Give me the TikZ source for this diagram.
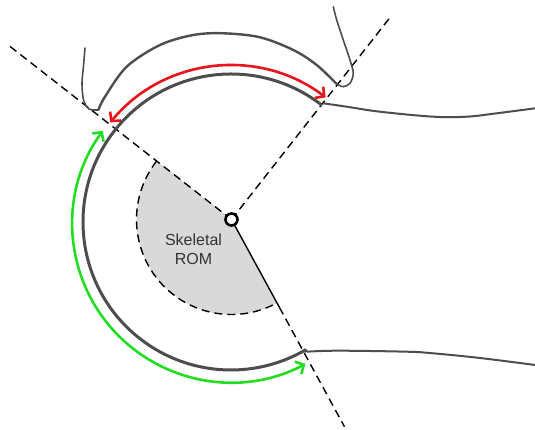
\documentclass[tikz,border=0pt]{standalone}
\usepackage{fontspec}
\setmainfont{Liberation Sans}
\usetikzlibrary{arrows.meta,calc}
\definecolor{outline}{HTML}{4D4D4D}
\definecolor{romgray}{HTML}{D9D9D9}
\definecolor{flexred}{HTML}{E8141B}
\definecolor{extgreen}{HTML}{22DD22}
\definecolor{labeltext}{HTML}{333333}
\tikzset{
  bone/.style={draw=outline, line width=3pt},
  skin/.style={draw=outline, line width=2pt},
  finger/.style={draw=outline, line width=1.6pt, line cap=round},
  axis/.style={draw=black, line width=1.4pt, dash pattern=on 8pt off 5pt},
  axissolid/.style={draw=black, line width=1.4pt},
  romarrow/.style={line width=2.6pt, {Straight Barb[length=6.5pt,width=14pt]}-{Straight Barb[length=6.5pt,width=14pt]}},
  jointnode/.style={circle, draw=black, fill=white, line width=2.6pt, inner sep=0pt, minimum size=12pt},
}
\begin{document}
\begin{tikzpicture}[x=1pt,y=-1pt]
\useasboundingbox (0,0) rectangle (535,430);
\fill[white] (0,0) rectangle (535,430);

% reference points
\coordinate (J) at (231.5,219.5);   % joint centre
\coordinate (H) at (231,222);       % centre of the bone outline
\coordinate (G) at (231,224);       % centre of the green arc

% skeletal range of motion sector
\fill[romgray] (J) -- ($(J)+(-142:95)$) arc[start angle=-142, end angle=-298.6, radius=95] -- cycle;
\draw[axis] ($(J)+(-142:95)$) arc[start angle=-142, end angle=-298.6, radius=95];

% axes through the joint
\coordinate (Aend) at ($(J)+(-142:281)$);
\coordinate (Cend) at (392,15);
\coordinate (Bmid) at ($(J)+(-298.6:100)$);
\coordinate (Bend) at ($(J)+(-298.6:236)$);
\draw[axis] (J) -- (Aend);
\draw[axis] (J) -- (Cend);
\draw[axissolid] (J) -- (Bmid);
\draw[axis] (Bmid) -- (Bend);

% bone outline
\draw[bone] ($(H)+(-52:148)$) arc[start angle=-52, end angle=-300, radius=148] -- (306.7,351.7);

% soft tissue contours to the right
\draw[skin] plot[smooth, tension=0.6] coordinates {(323.3,103.3) (346.7,106.7) (380,111.7) (433.3,116.7) (466.7,116.7) (496.7,113.3) (535,108.3)};
\draw[skin] plot[smooth, tension=0.6] coordinates {(306.7,351.7) (338.3,350.7) (406.7,351.7) (433,353.3) (480,358) (535,365)};

% cap with fingers
\draw[finger] plot[smooth, tension=0.5] coordinates {(85,48) (83.5,66) (82,83) (83.5,100) (89,109) (98.3,110)};
\draw[skin, line width=2.4pt, line cap=round] plot[smooth, tension=0.55] coordinates {(98.3,110) (105,96.7) (126.7,66.7) (160,45) (193.3,35) (223.3,33.3) (260,37.3) (293.3,50) (316.7,65) (336.7,84)};
\draw[finger] plot[smooth, tension=0.5] coordinates {(336.7,84) (343.3,86.7) (350,83.3) (353.3,73.3) (350,60) (343.3,40) (336.7,20) (333.3,6.7)};

% range arrows
\draw[romarrow, flexred] ($(H)+(-140.5:156.5)$) arc[start angle=-140.5, end angle=-52.8, radius=156.5];
\draw[romarrow, extgreen] ($(G)+(-144:158.5)$) arc[start angle=-144, end angle=-298, radius=158.5];

% joint marker and label
\node[jointnode] (joint) at (J) {};
\node[text=labeltext, font=\fontsize{16}{19}\selectfont, align=center] (rom) at (193.5,249) {Skeletal\\ROM};
\end{tikzpicture}
\end{document}
